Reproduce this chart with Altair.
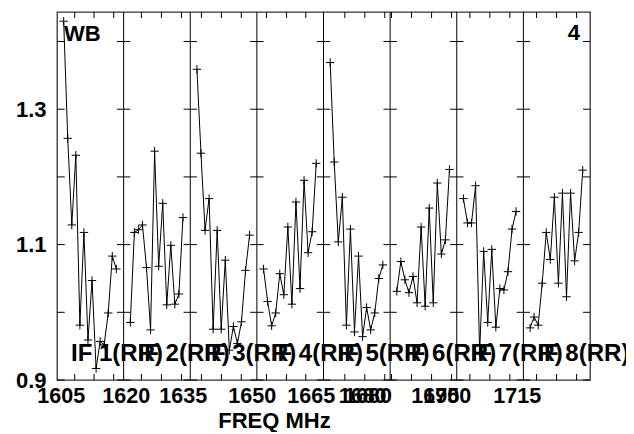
import altair as alt
import pandas as pd

# ---------------- data ----------------
IF_LABELS = ["IF 1(RR)", "IF 2(RR)", "IF 3(RR)", "IF 4(RR)",
             "IF 5(RR)", "IF 6(RR)", "IF 7(RR)", "IF 8(RR)"]

AMP_IF1 = [1.430, 1.257, 1.129, 1.232, 0.981, 1.118, 0.959, 1.047,
           0.917, 0.957, 0.952, 0.999, 1.083, 1.064]
AMP_IF2 = [0.985, 1.118, 1.122, 1.129, 1.066, 0.974, 1.238, 1.068,
           1.161, 1.011, 1.099, 1.012, 1.027, 1.140]
AMP_IF3 = [1.359, 1.235, 1.121, 1.168, 0.975, 1.121, 0.975, 1.077,
           0.944, 0.979, 0.954, 0.986, 1.062, 1.114]
AMP_IF4 = [1.064, 1.016, 0.980, 0.999, 1.057, 1.026, 1.126, 1.012,
           1.163, 1.035, 1.195, 1.088, 1.119, 1.220]
AMP_IF5 = [1.369, 1.222, 1.104, 1.170, 0.981, 1.123, 0.971, 1.083,
           0.964, 1.007, 0.974, 0.999, 1.050, 1.070]
AMP_IF6 = [1.031, 1.075, 1.048, 1.029, 1.053, 1.014, 1.126, 1.009,
           1.154, 1.014, 1.191, 1.086, 1.107, 1.211]
AMP_IF7 = [1.168, 1.132, 1.132, 1.187, 0.941, 1.090, 0.985, 1.093,
           0.978, 1.035, 1.033, 1.060, 1.123, 1.149]
AMP_IF8 = [0.977, 0.993, 0.981, 1.043, 1.118, 1.078, 1.170, 1.043,
           1.176, 1.023, 1.176, 1.076, 1.118, 1.210]
SERIES = [AMP_IF1, AMP_IF2, AMP_IF3, AMP_IF4, AMP_IF5, AMP_IF6, AMP_IF7, AMP_IF8]

Y_TICKS = [0.9, 1.0, 1.1, 1.2, 1.3, 1.4]
Y_LABELS = [0.9, 1.1, 1.3]
Y_DOMAIN = [0.9, 1.4436]

# frequency tick labels (x in panel units: panel k spans k..k+1)
FREQ_LABELS = ["1605", "1620", "1635", "1650", "1665", "1680", "1680",
               "1695", "1700", "1715"]
FREQ_LABEL_POS = [0.056, 1.032, 1.887, 2.923, 3.809, 4.58, 4.66,
                  5.67, 5.85, 6.90]
MINOR_TICK_POS = [0.266, 0.556, 0.851, 1.267, 1.568, 1.868,
                  2.168, 2.468, 2.766, 3.144, 3.444, 3.734,
                  4.320, 4.620, 4.920, 5.021, 5.321, 5.622, 5.922,
                  6.197, 6.497, 6.797, 7.198, 7.498, 7.799]

N_PANELS = len(SERIES)
W, H = 533, 368
PX = N_PANELS / W          # one pixel in panel units
FONT = "Liberation Sans"

# ---------------- tables ----------------
rows = []
for p, arr in enumerate(SERIES):
    n = len(arr)
    for c, v in enumerate(arr):
        rows.append({"panel": p, "x": p + (c + 1.65) / (n + 2.45), "y": v})
pts = pd.DataFrame(rows)

seps = pd.DataFrame({"x": list(range(1, N_PANELS))})

tk = []
for b in range(N_PANELS + 1):
    for yv in Y_TICKS:
        if b == 0:
            x0, x1 = 0, 7.7 * PX
        elif b == N_PANELS:
            x0, x1 = N_PANELS - 7 * PX, N_PANELS
        else:
            x0, x1 = b - 6.7 * PX, b + 6.7 * PX
        tk.append({"x": x0, "x2": x1, "y": yv})
yticks = pd.DataFrame(tk)

minor = pd.DataFrame({"x": MINOR_TICK_POS})
labels = pd.DataFrame({"x": [p + 14 * PX for p in range(N_PANELS)],
                       "t": IF_LABELS})

label_expr = "[{}][indexof([{}], datum.value)]".format(
    ",".join("'%s'" % s for s in FREQ_LABELS),
    ",".join(repr(v) for v in FREQ_LABEL_POS))

xscale = alt.Scale(domain=[0, N_PANELS], nice=False, zero=False)
yscale = alt.Scale(domain=Y_DOMAIN, nice=False, zero=False)

xaxis = alt.Axis(values=FREQ_LABEL_POS, labelExpr=label_expr, title="FREQ MHz",
                 grid=False, ticks=False, tickSize=0, domain=False,
                 labelFont=FONT, labelFontSize=21.5, labelFontWeight="bold",
                 labelColor="black", labelPadding=5, labelOverlap=False,
                 labelFlush=False, labelBound=False,
                 titleFont=FONT, titleFontSize=22, titleFontWeight="bold",
                 titleColor="black", titleX=217, titleY=47,
                 titleAnchor="start", titleAlign="center",
                 titleBaseline="alphabetic")
yaxis = alt.Axis(values=Y_LABELS, format=".1f", title=None, grid=False,
                 ticks=False, tickSize=0, domain=False,
                 labelFont=FONT, labelFontSize=22, labelFontWeight="bold",
                 labelColor="black", labelPadding=11, labelOverlap=False,
                 labelFlush=False)

X = alt.X("x:Q", scale=xscale, axis=xaxis)
Y = alt.Y("y:Q", scale=yscale, axis=yaxis)

line = alt.Chart(pts).mark_line(color="black", strokeWidth=1, clip=True).encode(
    x=X, y=Y, detail="panel:N")

cross = alt.Chart(pts).mark_point(
    shape="M-1,0H1M0,-1V1", filled=False, stroke="black", strokeWidth=1,
    size=70, opacity=1, clip=True).encode(x=X, y=Y)

sep = alt.Chart(seps).mark_rule(color="black", strokeWidth=1).encode(
    x=X, y=alt.value(0), y2=alt.value(H))

ytk = alt.Chart(yticks).mark_rule(color="black", strokeWidth=1).encode(
    x=X, x2="x2:Q", y=Y)

mbot = alt.Chart(minor).mark_rule(color="black", strokeWidth=1).encode(
    x=X, y=alt.value(H), y2=alt.value(H - 6))
mtop = alt.Chart(minor).mark_rule(color="black", strokeWidth=1).encode(
    x=X, y=alt.value(0), y2=alt.value(6))

iflab = alt.Chart(labels).mark_text(
    align="left", baseline="alphabetic", font=FONT, fontSize=24,
    fontWeight="bold", color="black").encode(
    x=X, y=alt.value(349), text="t:N")

wb = alt.Chart(pd.DataFrame({"t": ["WB"]})).mark_text(
    align="left", baseline="alphabetic", font=FONT, fontSize=22,
    fontWeight="bold", color="black").encode(
    x=alt.value(7), y=alt.value(29), text="t:N")
four = alt.Chart(pd.DataFrame({"t": ["4"]})).mark_text(
    align="right", baseline="alphabetic", font=FONT, fontSize=22,
    fontWeight="bold", color="black").encode(
    x=alt.value(523), y=alt.value(28), text="t:N")

chart = alt.layer(line, sep, ytk, mbot, mtop, cross, iflab, wb, four).properties(
    width=W, height=H,
    padding={"left": 49, "top": 4, "right": 36, "bottom": 52},
    autosize=alt.AutoSizeParams(type="none"),
    background="white",
).configure_view(stroke="#333", strokeWidth=1.3)

chart.save("out.html", embed_options={"renderer": "svg", "actions": False})
